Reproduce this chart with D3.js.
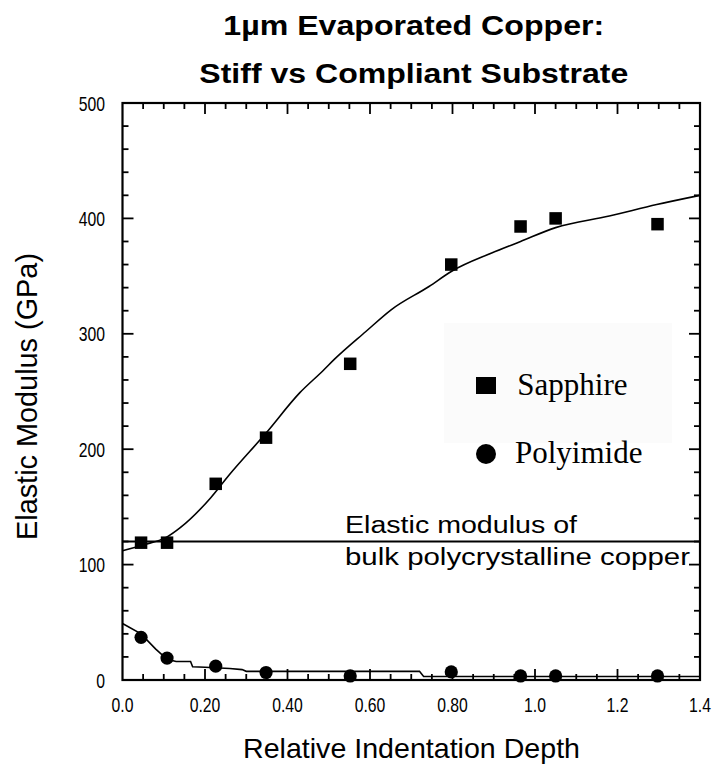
<!DOCTYPE html>
<html>
<head>
<meta charset="utf-8">
<script src="https://cdn.jsdelivr.net/npm/d3@7"></script>
<style>
  body { margin: 0; background: #fff; }
  text { font-family: "Liberation Sans", Arial, sans-serif; fill: #000; }
</style>
</head>
<body>
<svg id="chart" width="715" height="778"></svg>
<script>
// Measured film modulus vs relative indentation depth
const depth     = [0.045, 0.108, 0.226, 0.348, 0.552, 0.797, 0.965, 1.05, 1.297];
const sapphire  = [119, 119, 170, 210, 274, 360, 393, 400, 395];
const polyimide = [37, 19, 12, 6.5, 3.5, 7, 3.5, 3.5, 3.5];

// Fitted trend for the film on sapphire
const sapphireFitX = [0, 0.05, 0.108, 0.14, 0.214, 0.257, 0.348, 0.43, 0.486, 0.514, 0.59, 0.652, 0.743, 0.797, 0.895, 0.965, 1.05, 1.18, 1.295, 1.4];
const sapphireFitY = [112, 117, 124, 132, 158, 177, 214, 249, 268, 278, 302, 321, 341, 354, 370, 380, 392, 402, 412, 420];

// Fitted trend for the film on polyimide
const polyFitX = [0, 0.045, 0.08, 0.108, 0.13, 0.165, 0.17, 0.2, 0.26, 0.29, 0.3, 0.72, 0.73, 1.4];
const polyFitY = [49, 40, 27, 18, 16, 16, 11.5, 11, 10, 9, 7.5, 7.5, 3, 3];

// Reference modulus of bulk polycrystalline copper (GPa)
const bulkCopper = 120;

const titleLines = ["1µm Evaporated Copper:", "Stiff vs Compliant Substrate"];
const xTicks = [0, 0.2, 0.4, 0.6, 0.8, 1.0, 1.2, 1.4];
const xTickLabels = ["0.0", "0.20", "0.40", "0.60", "0.80", "1.0", "1.2", "1.4"];
const yTicks = [0, 100, 200, 300, 400, 500];
const yTickLabels = ["0", "100", "200", "300", "400", "500"];
const legendNames = ["Sapphire", "Polyimide"];

const svg = d3.select("#chart");
const plotL = 122.5, plotR = 700, plotT = 103, plotB = 680;
const x = d3.scaleLinear().domain([0, 1.4]).range([plotL, plotR]);
const y = d3.scaleLinear().domain([0, 500]).range([plotB, plotT]);

// Title
svg.append("text").attr("x", 223.3).attr("y", 35)
  .attr("font-size", 28).attr("font-weight", "bold")
  .attr("textLength", 381).attr("lengthAdjust", "spacingAndGlyphs")
  .text(titleLines[0]);
svg.append("text").attr("x", 199.3).attr("y", 83.3)
  .attr("font-size", 28).attr("font-weight", "bold")
  .attr("textLength", 429).attr("lengthAdjust", "spacingAndGlyphs")
  .text(titleLines[1]);

// Faint legend panel
svg.append("rect").attr("x", 444).attr("y", 323).attr("width", 228).attr("height", 120)
  .attr("fill", "#fbfbfb");

// Ticks on all four sides, pointing inward
const tickG = svg.append("g").attr("stroke", "#000").attr("stroke-width", 1.8);
for (let i = 1; i < 28; i++) {
  const v = i * 0.05, len = (i % 4 === 0) ? 11 : 6;
  tickG.append("line").attr("x1", x(v)).attr("x2", x(v)).attr("y1", plotB).attr("y2", plotB - len);
  tickG.append("line").attr("x1", x(v)).attr("x2", x(v)).attr("y1", plotT).attr("y2", plotT + len);
}
for (let i = 1; i < 25; i++) {
  const v = i * 20, len = (i % 5 === 0) ? 11 : 6;
  tickG.append("line").attr("y1", y(v)).attr("y2", y(v)).attr("x1", plotL).attr("x2", plotL + len);
  tickG.append("line").attr("y1", y(v)).attr("y2", y(v)).attr("x1", plotR).attr("x2", plotR - len);
}

// Tick labels (narrow, tall digits)
yTicks.forEach((v, i) => {
  svg.append("text")
    .attr("transform", `translate(105,${y(v) + 7.5}) scale(0.75,1)`)
    .attr("text-anchor", "end").attr("font-size", 21)
    .text(yTickLabels[i]);
});
xTicks.forEach((v, i) => {
  svg.append("text")
    .attr("transform", `translate(${x(v)},712) scale(0.75,1)`)
    .attr("text-anchor", "middle").attr("font-size", 21)
    .text(xTickLabels[i]);
});

// Axis titles
svg.append("text").attr("transform", "translate(37,396.5) rotate(-90)")
  .attr("text-anchor", "middle").attr("font-size", 29)
  .attr("textLength", 287).attr("lengthAdjust", "spacingAndGlyphs")
  .text("Elastic Modulus (GPa)");
svg.append("text").attr("x", 411.5).attr("y", 758)
  .attr("text-anchor", "middle").attr("font-size", 28.5)
  .attr("textLength", 337).attr("lengthAdjust", "spacingAndGlyphs")
  .text("Relative Indentation Depth");

// Bulk copper reference line and its label
svg.append("line").attr("x1", plotL).attr("x2", plotR)
  .attr("y1", y(bulkCopper)).attr("y2", y(bulkCopper))
  .attr("stroke", "#000").attr("stroke-width", 2);
svg.append("text").attr("x", 345).attr("y", 533).attr("font-size", 23)
  .attr("textLength", 232).attr("lengthAdjust", "spacingAndGlyphs")
  .text("Elastic modulus of");
svg.append("text").attr("x", 345).attr("y", 565).attr("font-size", 23)
  .attr("textLength", 345).attr("lengthAdjust", "spacingAndGlyphs")
  .text("bulk polycrystalline copper");

// Fit curves
svg.append("path").datum(sapphireFitX.map((v, i) => [v, sapphireFitY[i]]))
  .attr("d", d3.line().x(d => x(d[0])).y(d => y(d[1])).curve(d3.curveMonotoneX))
  .attr("fill", "none").attr("stroke", "#000").attr("stroke-width", 1.6);
svg.append("path").datum(polyFitX.map((v, i) => [v, polyFitY[i]]))
  .attr("d", d3.line().x(d => x(d[0])).y(d => y(d[1])))
  .attr("fill", "none").attr("stroke", "#000").attr("stroke-width", 1.6);

// Data markers
const sq = 12.5;
svg.append("g").selectAll("rect").data(depth).join("rect")
  .attr("x", (d) => x(d) - sq / 2)
  .attr("y", (d, i) => y(sapphire[i]) - sq / 2)
  .attr("width", sq).attr("height", sq).attr("fill", "#000");
svg.append("g").selectAll("circle").data(depth).join("circle")
  .attr("cx", (d) => x(d))
  .attr("cy", (d, i) => y(polyimide[i]))
  .attr("r", 6.6).attr("fill", "#000");

// Legend
svg.append("rect").attr("x", 476).attr("y", 377).attr("width", 20).attr("height", 17).attr("fill", "#000");
svg.append("circle").attr("cx", 486).attr("cy", 454).attr("r", 10).attr("fill", "#000");
svg.append("text").attr("x", 517.3).attr("y", 395)
  .style("font-family", '"Liberation Serif", "Times New Roman", serif').attr("font-size", 31)
  .text(legendNames[0]);
svg.append("text").attr("x", 515).attr("y", 463)
  .style("font-family", '"Liberation Serif", "Times New Roman", serif').attr("font-size", 31)
  .text(legendNames[1]);

// Plot frame
svg.append("rect").attr("x", plotL).attr("y", plotT)
  .attr("width", plotR - plotL).attr("height", plotB - plotT)
  .attr("fill", "none").attr("stroke", "#000").attr("stroke-width", 2.2);
</script>
</body>
</html>
